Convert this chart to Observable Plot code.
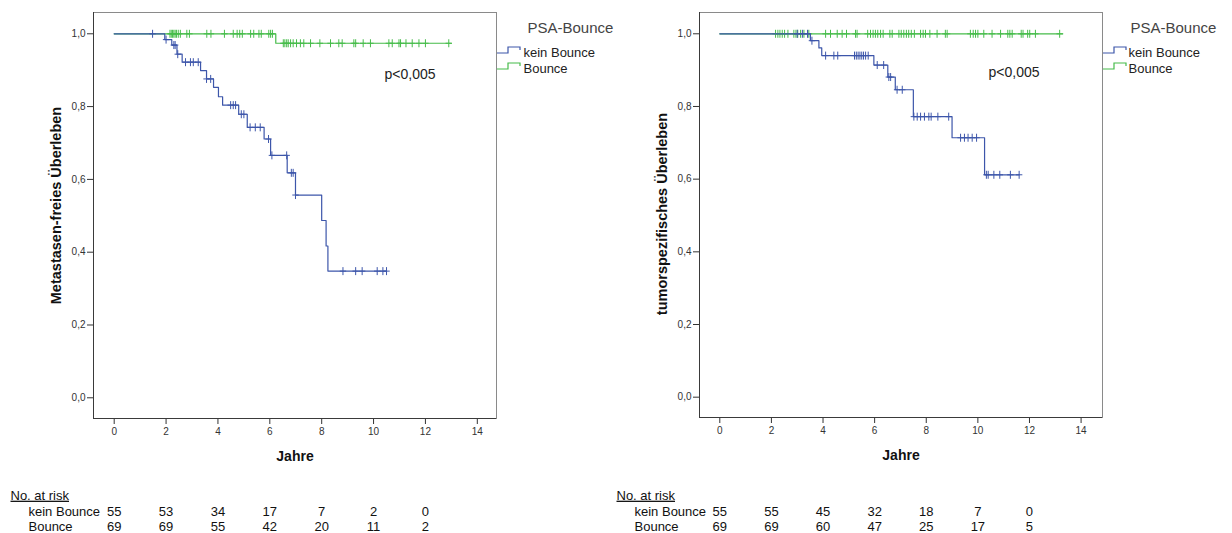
<!DOCTYPE html>
<html><head><meta charset="utf-8">
<script src="https://cdn.jsdelivr.net/npm/d3@7"></script>
<script src="https://cdn.jsdelivr.net/npm/@observablehq/plot@0.6"></script>
<style>
html,body{margin:0;padding:0;background:#fff;}
#wrap{display:flex;width:1232px;height:533px;overflow:hidden;}
#wrap svg{overflow:visible;flex:none;}
</style></head><body><div id="wrap"></div>
<script>
// ---------- data ----------
const groups = ["kein Bounce", "Bounce"];
const groupColors = ["#3d56aa", "#46bc4a"];
const xTicks = [0, 2, 4, 6, 8, 10, 12, 14];
const yTicks = [0, 0.2, 0.4, 0.6, 0.8, 1.0];
const riskYears = [0, 2, 4, 6, 8, 10, 12];
const legendTitle = "PSA-Bounce";
const pText = "p<0,005";
const xTitle = "Jahre";
const riskTitle = "No. at risk";

// left chart: Metastasen-freies Überleben
const leftTitle = "Metastasen-freies Überleben";
const leftKeinT = [0, 1.95, 2.22, 2.42, 2.62, 3.33, 3.56, 3.83, 4.02, 4.18, 4.80, 5.13, 5.78, 6.03, 6.67, 6.99, 8.00, 8.17, 8.24];
const leftKeinS = [1, 0.984, 0.969, 0.944, 0.922, 0.899, 0.876, 0.853, 0.827, 0.804, 0.779, 0.743, 0.711, 0.666, 0.618, 0.557, 0.487, 0.417, 0.348];
const leftKeinEnd = 10.5;
const leftKeinCensor = [1.48, 2.0, 2.3, 2.35, 2.45, 2.75, 2.94, 3.05, 3.24, 3.56, 3.72, 4.49, 4.59, 4.68, 4.9, 5.0, 5.24, 5.44, 5.63, 5.95, 6.08, 6.65, 6.83, 6.9, 6.99, 8.82, 9.31, 9.56, 10.14, 10.36, 10.5];
const leftBounceT = [0, 6.23];
const leftBounceS = [1, 0.974];
const leftBounceEnd = 13.0;
const leftBounceCensor = [2.15, 2.2, 2.25, 2.3, 2.35, 2.4, 2.47, 2.55, 2.8, 2.9, 3.57, 3.73, 4.25, 4.59, 4.74, 4.84, 4.94, 5.26, 5.38, 5.58, 5.67, 5.96, 6.03, 6.1, 6.52, 6.58, 6.65, 6.71, 6.8, 6.9, 7.03, 7.18, 7.31, 7.57, 7.93, 8.34, 8.66, 8.79, 9.24, 9.31, 9.6, 9.88, 10.59, 10.72, 10.98, 11.04, 11.25, 11.49, 11.75, 12.0, 12.9];
const leftRiskKein = [55, 53, 34, 17, 7, 2, 0];
const leftRiskBounce = [69, 69, 55, 42, 20, 11, 2];

// right chart: tumorspezifisches Überleben
const rightTitle = "tumorspezifisches Überleben";
const rightKeinT = [0, 3.51, 3.84, 3.95, 5.97, 6.51, 6.8, 7.5, 9.0, 10.26];
const rightKeinS = [1, 0.981, 0.961, 0.940, 0.914, 0.881, 0.846, 0.772, 0.714, 0.612];
const rightKeinEnd = 11.6;
const rightKeinCensor = [3.0, 3.2, 3.4, 3.57, 4.10, 4.42, 4.57, 5.22, 5.29, 5.36, 5.43, 5.5, 5.57, 5.65, 5.75, 6.10, 6.35, 6.55, 6.62, 6.87, 7.07, 7.52, 7.65, 7.78, 7.93, 8.1, 8.19, 8.45, 8.87, 9.33, 9.48, 9.62, 9.78, 9.95, 10.33, 10.4, 10.62, 10.85, 11.26, 11.6];
const rightBounceT = [0];
const rightBounceS = [1];
const rightBounceEnd = 13.29;
const rightBounceCensor = [2.16, 2.25, 2.33, 2.42, 2.51, 2.64, 2.87, 2.95, 3.02, 3.13, 3.26, 3.45, 4.10, 4.29, 4.55, 4.74, 4.91, 5.26, 5.32, 5.73, 5.84, 5.94, 6.03, 6.12, 6.23, 6.33, 6.59, 6.68, 6.94, 7.03, 7.13, 7.23, 7.32, 7.42, 7.54, 7.78, 7.88, 7.97, 8.14, 8.42, 8.74, 8.81, 9.71, 9.82, 9.91, 10.0, 10.23, 10.55, 10.88, 11.16, 11.24, 11.33, 11.68, 11.75, 11.93, 12.01, 12.23, 13.17];
const rightRiskKein = [55, 55, 45, 32, 18, 7, 0];
const rightRiskBounce = [69, 69, 60, 47, 25, 17, 5];

// ---------- helpers ----------
const FONT = "'Liberation Sans', Arial, Helvetica, sans-serif";
function stepLine(T, S, end) {
  const pts = T.map((t, i) => ({t, s: S[i]}));
  pts.push({t: end, s: S[S.length - 1]});
  return pts;
}
function survAt(T, S, t) {
  let s = S[0];
  for (let i = 0; i < T.length; i++) if (T[i] <= t) s = S[i];
  return s;
}
const plusSymbol = {
  draw(ctx, size) {
    const r = Math.sqrt(size / Math.PI);
    ctx.moveTo(-r * 0.8, 0); ctx.lineTo(r * 0.8, 0);
    ctx.moveTo(0, -r); ctx.lineTo(0, r);
  }
};
const LEGEND_DY = [40, 56];

function chart(cfg) {
  const xDom = cfg.xDomain, yDom = cfg.yDomain;
  const lines = [
    stepLine(cfg.keinT, cfg.keinS, cfg.keinEnd),
    stepLine(cfg.bounceT, cfg.bounceS, cfg.bounceEnd)
  ];
  const censors = [
    cfg.keinCensor.map(t => ({t, s: survAt(cfg.keinT, cfg.keinS, t)})),
    cfg.bounceCensor.map(t => ({t, s: survAt(cfg.bounceT, cfg.bounceS, t)}))
  ];
  const riskRows = [cfg.riskKein, cfg.riskBounce].map(arr => riskYears.map((t, i) => ({t, n: arr[i]})));
  const T = (o) => ({text: d => d, lineAnchor: "middle", ...o});

  const marks = [
    Plot.frame({stroke: "#8a8a8a"}),
    Plot.ruleX([xDom[0]], {stroke: "#3a3a3a"}),
    Plot.ruleY([yDom[0]], {stroke: "#3a3a3a"})
  ];
  [1, 0].forEach(g => {
    marks.push(Plot.line(lines[g], {x: "t", y: "s", curve: "step-after", stroke: groupColors[g], strokeWidth: 1.2}));
    marks.push(Plot.dot(censors[g], {x: "t", y: "s", symbol: plusSymbol, r: 4, fill: "none", stroke: groupColors[g], strokeWidth: 1}));
  });
  marks.push(
    Plot.text([pText], T({frameAnchor: "top-left", dx: cfg.pDx, dy: cfg.pDy, textAnchor: "start", fontSize: 14, fill: "#222"})),
    Plot.text([legendTitle], T({frameAnchor: "top-right", dx: cfg.legTitleDx, dy: 16, textAnchor: "start", fontSize: 15, fill: "#444"})),
    Plot.text(groups.slice(0, 1), T({frameAnchor: "top-right", dx: cfg.legDx, dy: LEGEND_DY[0], textAnchor: "start", fontSize: 13, fill: "#222"})),
    Plot.text(groups.slice(1, 2), T({frameAnchor: "top-right", dx: cfg.legDx, dy: LEGEND_DY[1], textAnchor: "start", fontSize: 13, fill: "#222"})),
    Plot.text([xTitle], T({frameAnchor: "bottom", dy: 38, textAnchor: "middle", fontWeight: "bold", fontSize: 14, fill: "#111"})),
    Plot.text([cfg.yTitle], T({frameAnchor: "left", rotate: -90, dx: -37, dy: cfg.yTitleDy, textAnchor: "middle", fontWeight: "bold", fontSize: 14.5, fill: "#111"})),
    Plot.text([riskTitle], T({frameAnchor: "bottom-left", dx: cfg.riskDx, dy: cfg.riskDy, textAnchor: "start", fontSize: 13, fill: "#111"})),
    Plot.text(groups.slice(0, 1), T({frameAnchor: "bottom-left", dx: cfg.riskDx + 18, dy: cfg.riskDy + 16, textAnchor: "start", fontSize: 13, fill: "#111"})),
    Plot.text(groups.slice(1, 2), T({frameAnchor: "bottom-left", dx: cfg.riskDx + 18, dy: cfg.riskDy + 31, textAnchor: "start", fontSize: 13, fill: "#111"})),
    Plot.text(riskRows[0], {x: "t", text: "n", frameAnchor: "bottom", lineAnchor: "middle", dy: cfg.riskDy + 16, fontSize: 13, fill: "#111"}),
    Plot.text(riskRows[1], {x: "t", text: "n", frameAnchor: "bottom", lineAnchor: "middle", dy: cfg.riskDy + 31, fontSize: 13, fill: "#111"})
  );

  const plot = Plot.plot({
    width: 616, height: 533,
    marginLeft: cfg.ml, marginRight: cfg.mr, marginTop: 12, marginBottom: cfg.mb,
    x: {domain: xDom, ticks: xTicks, tickSize: 6, tickPadding: 3, label: null, tickFormat: d => String(d)},
    y: {domain: yDom, ticks: yTicks, tickSize: 6, tickPadding: 2, label: null, tickFormat: d => d.toFixed(1).replace(".", ",")},
    style: {fontFamily: FONT, fontSize: "10px", color: "#333", background: "#fff", overflow: "visible"},
    marks
  });

  const svg = d3.select(plot);
  svg.selectAll("text").filter(function() { return this.textContent === riskTitle; })
    .attr("text-decoration", "underline");
  // legend step glyphs
  const xr = 616 - cfg.mr;
  groups.forEach((g, i) => {
    const yc = 12 + LEGEND_DY[i];
    svg.append("path")
      .attr("d", `M${xr + 1},${yc + 1}H${xr + 12}V${yc - 5}H${xr + 24}V${yc - 2}`)
      .attr("fill", "none").attr("stroke", groupColors[i]).attr("stroke-width", 1.2);
  });
  return plot;
}

const wrap = document.getElementById("wrap");
wrap.appendChild(chart({
  ml: 93, mr: 120, mb: 115,
  xDomain: [-0.798, 14.74], yDomain: [-0.0569, 1.0585],
  keinT: leftKeinT, keinS: leftKeinS, keinEnd: leftKeinEnd, keinCensor: leftKeinCensor,
  bounceT: leftBounceT, bounceS: leftBounceS, bounceEnd: leftBounceEnd, bounceCensor: leftBounceCensor,
  riskKein: leftRiskKein, riskBounce: leftRiskBounce,
  yTitle: leftTitle, yTitleDy: -10,
  pDx: 291, pDy: 62, legTitleDx: 31, legDx: 27,
  riskDx: -83, riskDy: 77
}));
wrap.appendChild(chart({
  ml: 83, mr: 130, mb: 116,
  xDomain: [-0.787, 14.83], yDomain: [-0.0559, 1.0586],
  keinT: rightKeinT, keinS: rightKeinS, keinEnd: rightKeinEnd, keinCensor: rightKeinCensor,
  bounceT: rightBounceT, bounceS: rightBounceS, bounceEnd: rightBounceEnd, bounceCensor: rightBounceCensor,
  riskKein: rightRiskKein, riskBounce: rightRiskBounce,
  yTitle: rightTitle, yTitleDy: -1,
  pDx: 289, pDy: 60, legTitleDx: 28, legDx: 26,
  riskDx: -83, riskDy: 78
}));
</script></body></html>
